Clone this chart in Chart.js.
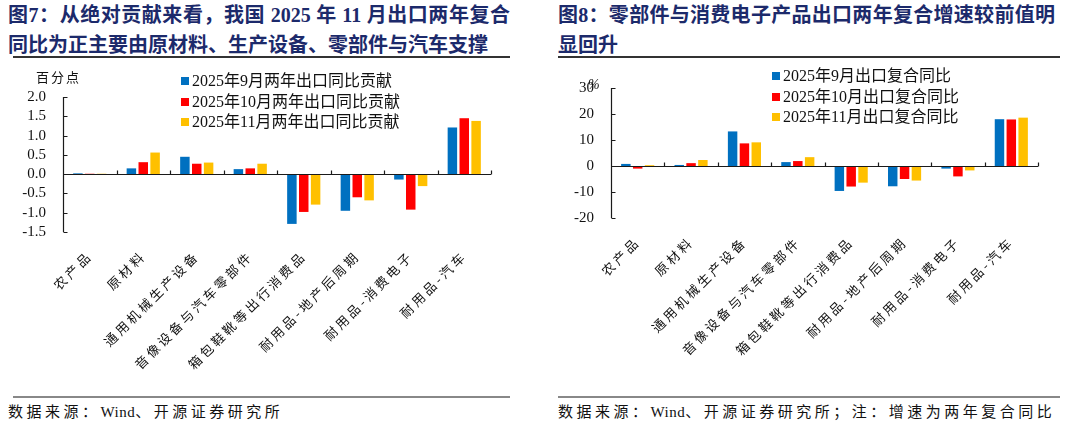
<!DOCTYPE html>
<html>
<head>
<meta charset="utf-8">
<script src="https://cdn.jsdelivr.net/npm/chart.js@4.4.1/dist/chart.umd.min.js"></script>
<style>
body { margin: 0; width: 1089px; height: 424px; background: #fff; position: relative; overflow: hidden;
       font-family: "Liberation Serif", "Noto Sans CJK SC", serif; color: #111; }
.title { position: absolute; color: #1c2a6b; font-weight: bold; font-size: 20px; line-height: 30px; white-space: nowrap;
         font-family: "Liberation Serif", "Noto Sans CJK SC", serif; }
.just { text-align: justify; text-align-last: justify; }
.rule { position: absolute; height: 2px; }
.src { position: absolute; font-size: 15px; letter-spacing: 3.5px; white-space: nowrap; top: 400px; }
.src span { letter-spacing: 0.5px; }
.legend { position: absolute; font-size: 16px; line-height: 20.5px; white-space: nowrap; }
.legend div { display: flex; align-items: center; }
.legend span.box { display: inline-block; width: 8px; height: 8px; margin-right: 3px; }
.ytitle { position: absolute; font-size: 13px; letter-spacing: 2px; white-space: nowrap; }
canvas { position: absolute; top: 60px; }
</style>
</head>
<body>
<div class="title just" style="left:8px;top:0px;width:502px;">图7：从绝对贡献来看，我国 2025 年 11 月出口两年复合</div>
<div class="title" style="left:8px;top:30px;">同比为正主要由原材料、生产设备、零部件与汽车支撑</div>
<div class="rule" style="left:13px;top:56px;width:497px;background:#333;"></div>

<div class="title just" style="left:558px;top:0px;width:497px;">图8：零部件与消费电子产品出口两年复合增速较前值明</div>
<div class="title" style="left:558px;top:30px;">显回升</div>
<div class="rule" style="left:558px;top:56px;width:502px;background:#333;"></div>

<canvas id="c1" width="545" height="330" style="left:0px;"></canvas>
<canvas id="c2" width="544" height="330" style="left:545px;"></canvas>

<div class="ytitle" style="left:36px;top:67px;">百分点</div>
<div class="ytitle" style="left:588px;top:77px;font-style:italic;font-size:14px;letter-spacing:0;">%</div>
<div class="legend" id="lg1" style="left:181px;top:71px;"></div>
<div class="legend" id="lg2" style="left:772px;top:66px;"></div>

<div class="rule" style="left:13px;top:396px;width:497px;background:#888;"></div>
<div class="rule" style="left:558px;top:396px;width:502px;background:#888;"></div>
<div class="src" style="left:8px;">数据来源：<span>Wind</span>、开源证券研究所</div>
<div class="src" style="left:558px;">数据来源：<span>Wind</span>、开源证券研究所；注：增速为两年复合同比</div>

<script>
const categories = ["农产品", "原材料", "通用机械生产设备", "音像设备与汽车零部件",
    "箱包鞋靴等出行消费品", "耐用品-地产后周期", "耐用品-消费电子", "耐用品-汽车"];

const colors = ["#0070C0", "#FF0000", "#FFC000"];

// 图7: 两年出口同比贡献（百分点）
const contribNames = ["2025年9月两年出口同比贡献", "2025年10月两年出口同比贡献", "2025年11月两年出口同比贡献"];
const contribSep = [0.02, 0.15, 0.45, 0.13, -1.29, -0.95, -0.14, 1.21];
const contribOct = [0.01, 0.31, 0.27, 0.15, -0.98, -0.60, -0.92, 1.45];
const contribNov = [0.01, 0.56, 0.30, 0.27, -0.79, -0.68, -0.31, 1.38];

// 图8: 出口两年复合同比（%）
const growthNames = ["2025年9月出口复合同比", "2025年10月出口复合同比", "2025年11月出口复合同比"];
const growthSep = [0.8, 0.4, 13.3, 1.5, -9.6, -7.8, -1.0, 18.0];
const growthOct = [-1.0, 1.1, 8.7, 1.9, -7.9, -5.0, -4.0, 17.9];
const growthNov = [0.3, 2.3, 9.1, 3.4, -6.4, -5.6, -1.7, 18.6];

const yTicks1 = { min: -1.5, max: 2.0, step: 0.5 };
const yTicks2 = { min: -20, max: 30, step: 10 };

// axis line, zero line and inward tick marks like the Excel original
const axisLines = {
    id: "axisLines",
    afterDatasetsDraw(chart)
    {
        const ctx = chart.ctx;
        const a = chart.chartArea;
        const x = chart.scales.x;
        const y = chart.scales.y;
        const y0 = Math.round(y.getPixelForValue(0)) + 0.5;
        const left = Math.round(a.left) + 0.5;
        ctx.save();
        ctx.strokeStyle = "#1a1a1a";
        ctx.lineWidth = 1.2;
        ctx.beginPath();
        ctx.moveTo(left, a.top);
        ctx.lineTo(left, a.bottom);
        y.ticks.forEach((t, i) =>
        {
            const py = Math.round(y.getPixelForTick(i)) + 0.5;
            ctx.moveTo(left, py);
            ctx.lineTo(left + 4, py);
        });
        ctx.moveTo(left, y0);
        ctx.lineTo(a.right, y0);
        const n = x.ticks.length;
        for(let i = 1; i <= n; i += 1)
        {
            let px = a.right;
            if(i < n) px = (x.getPixelForTick(i - 1) + x.getPixelForTick(i)) / 2;
            px = Math.round(px) + 0.5;
            ctx.moveTo(px, y0);
            ctx.lineTo(px, y0 - 4);
        }
        ctx.stroke();
        ctx.restore();
        // category labels are drawn after this (ticks z = 1): spread the glyphs a bit
        ctx.letterSpacing = "3px";
    },
    afterDraw(chart)
    {
        chart.ctx.letterSpacing = "0px";
    }
};

function makeChart(id, series, names, yt, yWidth, xHeight, padTop, padRight, digits)
{
    const ctx = document.getElementById(id).getContext("2d");
    return new Chart(ctx,
    {
        type: "bar",
        data:
        {
            labels: categories,
            datasets: series.map((s, i) => ({
                label: names[i],
                data: s,
                backgroundColor: colors[i],
                categoryPercentage: 0.665,
                barPercentage: 0.8
            }))
        },
        options:
        {
            responsive: false,
            animation: false,
            layout: { padding: { top: padTop, right: padRight, left: 0, bottom: 0 } },
            plugins: { legend: { display: false }, tooltip: { enabled: false } },
            scales:
            {
                x:
                {
                    grid: { display: false },
                    border: { display: false },
                    afterFit: (s) => { s.height = xHeight; },
                    ticks:
                    {
                        minRotation: 45, maxRotation: 45, autoSkip: false, padding: 8, z: 1,
                        color: "#111",
                        font: { family: "'Noto Sans CJK SC'", size: 13 }
                    }
                },
                y:
                {
                    min: yt.min, max: yt.max,
                    grid: { display: false, drawTicks: false },
                    border: { display: false },
                    afterFit: (s) => { s.width = yWidth; },
                    ticks:
                    {
                        stepSize: yt.step, padding: 17, color: "#111", autoSkip: false,
                        font: { family: "'Liberation Serif'", size: 15 },
                        callback: (v) => Number(v).toFixed(digits)
                    }
                }
            }
        },
        plugins: [axisLines]
    });
}

makeChart("c1", [contribSep, contribOct, contribNov], contribNames, yTicks1, 63, 158, 37, 54, 1);
makeChart("c2", [growthSep, growthOct, growthNov], growthNames, yTicks2, 66, 172, 28, 51, 0);

function buildLegend(elId, names)
{
    const el = document.getElementById(elId);
    names.forEach((nm, i) =>
    {
        const row = document.createElement("div");
        const box = document.createElement("span");
        box.className = "box";
        box.style.background = colors[i];
        row.appendChild(box);
        row.appendChild(document.createTextNode(nm));
        el.appendChild(row);
    });
}
buildLegend("lg1", contribNames);
buildLegend("lg2", growthNames);
</script>
</body>
</html>
